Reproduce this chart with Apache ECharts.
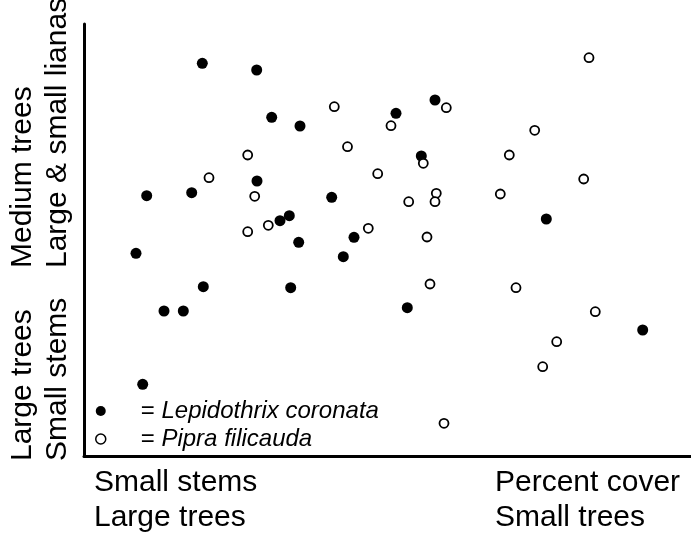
<!DOCTYPE html>
<html>
<head>
<meta charset="utf-8">
<script src="https://cdn.jsdelivr.net/npm/echarts@6/dist/echarts.min.js"></script>
<style>
html,body{margin:0;padding:0;background:#fff;}
#chart{width:691px;height:536px;}
</style>
</head>
<body>
<div id="chart"></div>
<script>
// Values in plot units (x: 0..607 left to right, y: 0..432 bottom to top)
var seriesNames = ['Lepidothrix coronata', 'Pipra filicauda'];

var lepidothrixX = [118.3, 172.7, 187.7, 216, 62.7, 107.7, 173, 247.7, 196, 205.3, 214.7, 52, 259.3, 270, 312, 351, 337.3, 462.3, 119.3, 206.7, 80, 99.3, 323.3, 558.7, 58.7];
var lepidothrixY = [392.7, 386, 338.7, 330, 260.3, 263.3, 275, 258.7, 235.3, 240.3, 213.7, 202.7, 199.3, 218.7, 342.7, 356, 300, 237, 169.3, 168.3, 145, 145, 148.3, 126, 71.7];

var pipraX = [250.3, 263.5, 163.7, 125, 170.7, 184.3, 163.7, 505, 362.3, 307, 450.7, 425.3, 339.3, 293.7, 499.7, 352.3, 351, 324.7, 416.3, 284.3, 343, 346, 432, 511.3, 472.7, 458.7, 360];
var pipraY = [349.3, 309.3, 301, 278.3, 259.7, 230.7, 224.3, 398.3, 348.3, 330.3, 325.7, 301, 292.7, 282.3, 277, 262.7, 254.3, 254.3, 262, 227.7, 219, 172, 168.3, 144.3, 114.3, 89.3, 32.7];

var xAxisLabels = ['Small stems\nLarge trees', 'Percent cover\nSmall trees'];
var yAxisLabels = ['Large trees\nSmall stems', 'Medium trees\nLarge & small lianas'];

function pairs(xs, ys) { return xs.map(function (x, i) { return [x, ys[i]]; }); }

var FONT = "'Liberation Sans', Arial, sans-serif";
var chart = echarts.init(document.getElementById('chart'), null, { renderer: 'canvas' });

chart.setOption({
  backgroundColor: '#ffffff',
  animation: false,
  grid: { left: 84, right: 0, top: 24, bottom: 80, containLabel: false },
  xAxis: {
    type: 'value', min: 0, max: 607,
    axisLine: { show: true, onZero: false, lineStyle: { color: '#000', width: 3 } },
    axisTick: { show: false }, axisLabel: { show: false }, splitLine: { show: false }
  },
  yAxis: {
    type: 'value', min: 0, max: 432,
    axisLine: { show: true, onZero: false, lineStyle: { color: '#000', width: 3 } },
    axisTick: { show: false }, axisLabel: { show: false }, splitLine: { show: false }
  },
  legend: {
    orient: 'vertical',
    left: 90, top: 394,
    itemWidth: 70, itemHeight: 10,
    itemGap: 4,
    icon: 'circle',
    data: [
      { name: seriesNames[0] },
      { name: seriesNames[1], itemStyle: { borderWidth: 1.5 } }
    ],
    formatter: function (name) { return '{n|= }{i|' + name + '}'; },
    textStyle: {
      color: '#000', fontFamily: FONT, fontSize: 24, lineHeight: 24,
      rich: {
        n: { color: '#000', fontFamily: FONT, fontSize: 24, lineHeight: 24 },
        i: { color: '#000', fontFamily: FONT, fontSize: 24, lineHeight: 24, fontStyle: 'italic' }
      }
    }
  },
  series: [
    {
      name: seriesNames[0], type: 'scatter', symbol: 'circle', symbolSize: 11,
      itemStyle: { color: '#000', opacity: 1 },
      data: pairs(lepidothrixX, lepidothrixY)
    },
    {
      name: seriesNames[1], type: 'scatter', symbol: 'circle', symbolSize: 9,
      itemStyle: { color: '#fff', borderColor: '#000', borderWidth: 1.8, opacity: 1 },
      data: pairs(pipraX, pipraY)
    }
  ],
  graphic: [
    { type: 'text', x: 94, y: 500, style: { text: xAxisLabels[0], fontSize: 30, fontFamily: FONT, lineHeight: 35, fill: '#000', align: 'left', verticalAlign: 'middle' } },
    { type: 'text', x: 495, y: 500, style: { text: xAxisLabels[1], fontSize: 30, fontFamily: FONT, lineHeight: 35, fill: '#000', align: 'left', verticalAlign: 'middle' } },
    { type: 'text', x: 40, y: 461, rotation: Math.PI / 2, style: { text: yAxisLabels[0], fontSize: 30, fontFamily: FONT, lineHeight: 35, fill: '#000', align: 'left', verticalAlign: 'middle' } },
    { type: 'text', x: 40, y: 268, rotation: Math.PI / 2, style: { text: yAxisLabels[1], fontSize: 30, fontFamily: FONT, lineHeight: 35, fill: '#000', align: 'left', verticalAlign: 'middle' } }
  ]
});
</script>
</body>
</html>
